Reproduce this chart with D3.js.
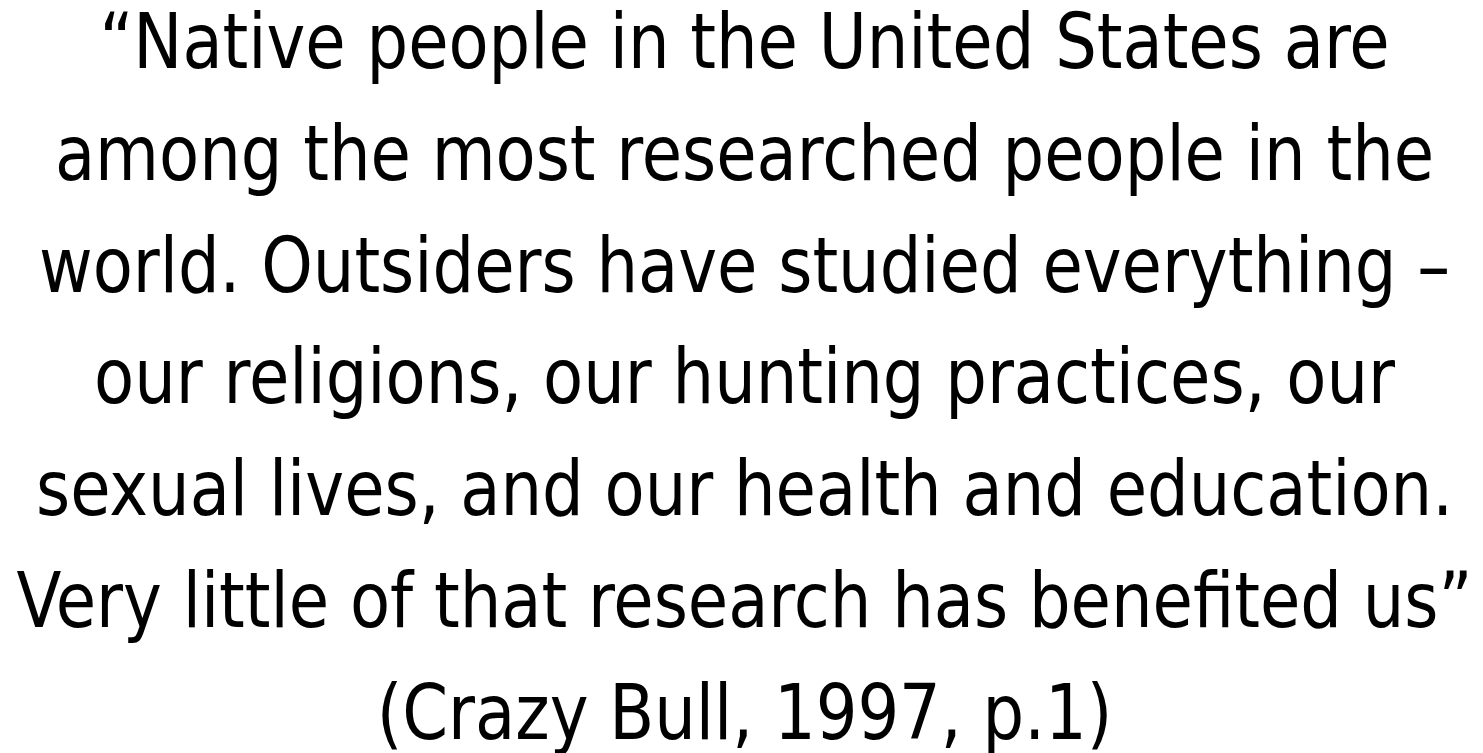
<!DOCTYPE html>
<html>
<head>
<meta charset="utf-8">
<script src="https://cdn.jsdelivr.net/npm/d3@7"></script>
<style>
  html, body { margin: 0; padding: 0; background: #fff; }
  svg { display: block; }
</style>
</head>
<body>
<script>
// quote text, one entry per line as laid out in the slide
const quoteLines = [
  "\u201CNative people in the United States are",
  "among the most researched people in the",
  "world. Outsiders have studied everything \u2013",
  "our religions, our hunting practices, our",
  "sexual lives, and our health and education.",
  "Very little of that research has benefited us\u201D",
  "(Crazy Bull, 1997, p.1)"
];

const width = 1483, height = 753;
const centerX = 744.5;

const svg = d3.select("body").append("svg")
    .attr("width", width)
    .attr("height", height);

// baseline of each line
const y = d3.scaleLinear()
    .domain([0, quoteLines.length - 1])
    .range([68, 739]);

// condensed face is still a bit wider than the original, squeeze it a little
const g = svg.append("g")
    .attr("transform", `translate(${centerX},0) scale(0.947,1)`);

g.selectAll("text")
  .data(quoteLines)
  .enter().append("text")
    .attr("x", 0)
    .attr("y", (d, i) => y(i))
    .attr("text-anchor", "middle")
    .style("font-family", "'DejaVu Sans Condensed', 'DejaVu Sans', sans-serif")
    .style("font-stretch", "condensed")
    .style("font-size", "77px")
    .style("fill", "#000")
    .text(d => d);
</script>
</body>
</html>
